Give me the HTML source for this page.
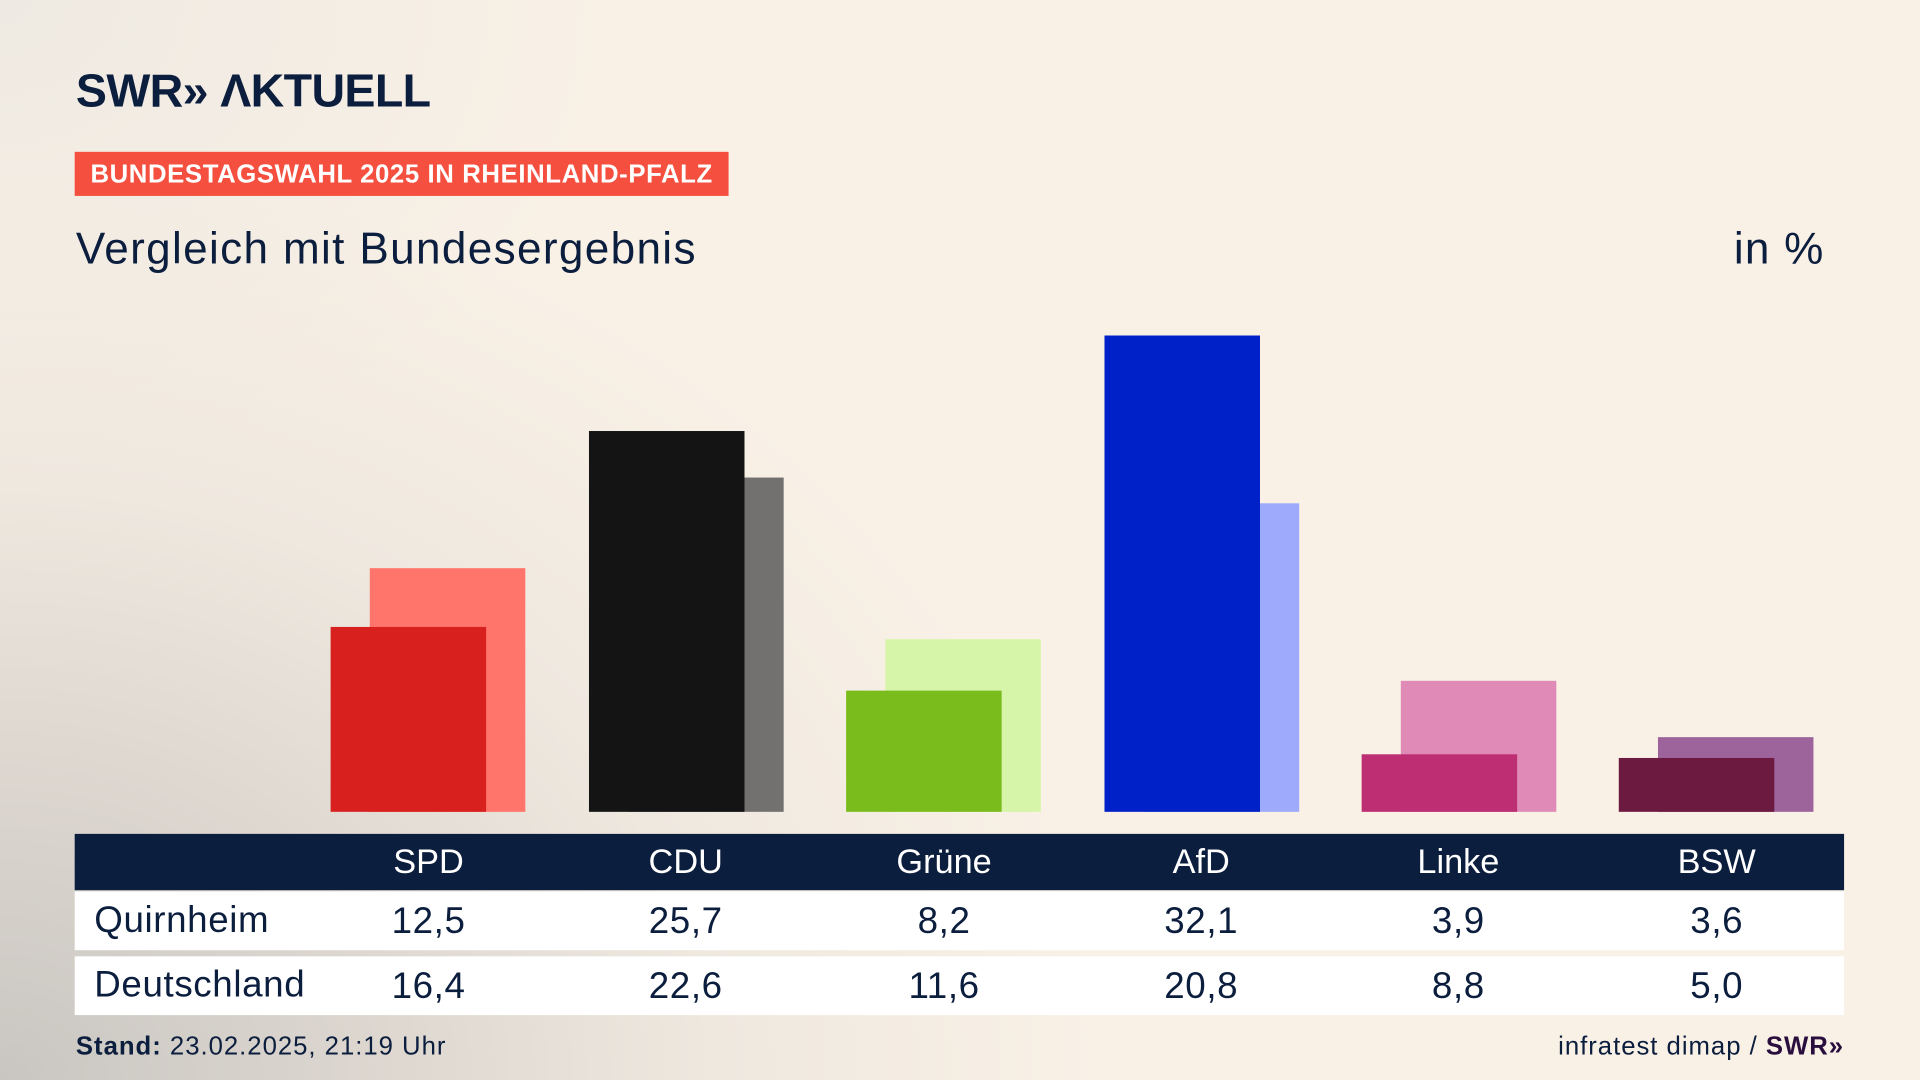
<!DOCTYPE html>
<html><head><meta charset="utf-8"><style>
html,body{margin:0;padding:0;width:1920px;height:1080px;overflow:hidden}
body{background:#f9f1e6}
#s{position:absolute;left:0;top:0;width:1568px;height:882px;transform:scale(1.22449);transform-origin:0 0;
background:radial-gradient(ellipse 900px 750px at 0px 882px,#c9c6c1 0%,#ddd7d0 35%,#efe8df 65%,rgba(249,241,230,0) 100%),radial-gradient(ellipse 500px 400px at 0 0,#eee9e2,rgba(249,241,230,0)),#f9f1e6;
font-family:"Liberation Sans",sans-serif;color:#0c1e3e}
.a{position:absolute}
.b{position:absolute;width:127px}
.t{position:absolute;width:160px;text-align:center;margin-left:-80px}
</style></head><body><div id="s">
<div class="a" style="left:62px;top:54px;font-size:38px;font-weight:bold;letter-spacing:-0.5px">SWR» ΛKTUELL</div>
<div class="a" style="left:61px;top:124px;width:534px;height:36px;background:#f5503f;color:#fff;font-weight:bold;font-size:21px;letter-spacing:0.5px;line-height:37px;text-align:center;white-space:nowrap">BUNDESTAGSWAHL 2025 IN RHEINLAND-PFALZ</div>
<div class="a" style="left:62px;top:182px;font-size:36px;letter-spacing:1.1px">Vergleich mit Bundesergebnis</div>
<div class="a" style="left:1380px;width:110px;text-align:right;top:182px;font-size:36px;letter-spacing:1px">in %</div>

<div class="b" style="left:302px;top:464px;height:199px;background:#ff756b"></div>
<div class="b" style="left:270px;top:512px;height:151px;background:#d8201f"></div>
<div class="b" style="left:513px;top:390px;height:273px;background:#737170"></div>
<div class="b" style="left:481px;top:352px;height:311px;background:#141414"></div>
<div class="b" style="left:723px;top:522px;height:141px;background:#d7f5a8"></div>
<div class="b" style="left:691px;top:564px;height:99px;background:#79bc1b"></div>
<div class="b" style="left:934px;top:411px;height:252px;background:#9eabfd"></div>
<div class="b" style="left:902px;top:274px;height:389px;background:#0021c8"></div>
<div class="b" style="left:1144px;top:556px;height:107px;background:#df8ab7"></div>
<div class="b" style="left:1112px;top:616px;height:47px;background:#bd2f72"></div>
<div class="b" style="left:1354px;top:602px;height:61px;background:#9d649c"></div>
<div class="b" style="left:1322px;top:619px;height:44px;background:#6d1a40"></div>

<div class="a" style="left:61px;top:681px;width:1445px;height:46px;background:#0c1e3e"></div>
<div class="a" style="left:61px;top:728px;width:1445px;height:48px;background:#fff"></div>
<div class="a" style="left:61px;top:781px;width:1445px;height:48px;background:#fff"></div>
<div style="color:#fff;font-size:28px">
<div class="t" style="left:350px;top:688px">SPD</div><div class="t" style="left:560px;top:688px">CDU</div><div class="t" style="left:771px;top:688px">Grüne</div><div class="t" style="left:981px;top:688px">AfD</div><div class="t" style="left:1191px;top:688px">Linke</div><div class="t" style="left:1402px;top:688px">BSW</div>
</div>
<div style="font-size:30px;letter-spacing:0.5px">
<div class="a" style="left:77px;top:735px">Quirnheim</div>
<div class="t" style="left:350px;top:736px">12,5</div><div class="t" style="left:560px;top:736px">25,7</div><div class="t" style="left:771px;top:736px">8,2</div><div class="t" style="left:981px;top:736px">32,1</div><div class="t" style="left:1191px;top:736px">3,9</div><div class="t" style="left:1402px;top:736px">3,6</div>
<div class="a" style="left:77px;top:788px">Deutschland</div>
<div class="t" style="left:350px;top:789px">16,4</div><div class="t" style="left:560px;top:789px">22,6</div><div class="t" style="left:771px;top:789px">11,6</div><div class="t" style="left:981px;top:789px">20,8</div><div class="t" style="left:1191px;top:789px">8,8</div><div class="t" style="left:1402px;top:789px">5,0</div>
</div>
<div class="a" style="left:62px;top:843px;font-size:21px;letter-spacing:0.8px;white-space:nowrap"><b>Stand:</b> 23.02.2025, 21:19 Uhr</div>
<div class="a" style="left:1150px;width:356px;text-align:right;top:843px;font-size:21px;letter-spacing:0.8px;white-space:nowrap">infratest dimap / <b style="color:#2a0f3e">SWR»</b></div>
</div></body></html>
